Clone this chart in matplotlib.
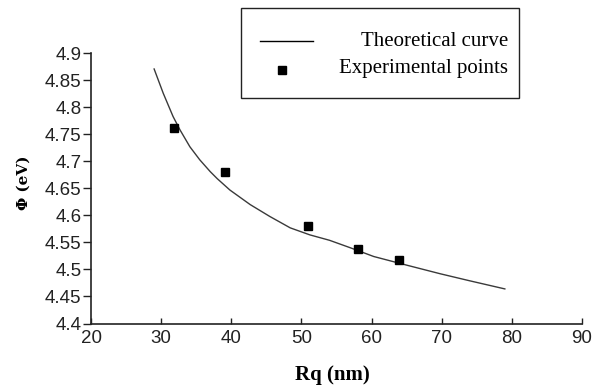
import matplotlib
matplotlib.use("Agg")
import matplotlib.pyplot as plt
from matplotlib.lines import Line2D
from matplotlib.patches import Rectangle

# Theoretical curve
curve_x = [29.0, 30.3, 31.7, 32.7, 34.1, 35.5, 37.0, 38.0, 39.8, 42.7, 45.5,
           48.4, 51.2, 54, 57, 60.3, 65, 69.8, 74, 79]
curve_y = [4.871, 4.826, 4.783, 4.758, 4.727, 4.703, 4.681, 4.668, 4.647, 4.620,
           4.598, 4.577, 4.564, 4.554, 4.540, 4.524, 4.508, 4.492, 4.479, 4.464]

# Experimental points
exp_x = [31.9, 39.1, 51.0, 58.0, 63.9]
exp_y = [4.761, 4.680, 4.580, 4.537, 4.517]

x_ticks = [20, 30, 40, 50, 60, 70, 80, 90]
y_ticks = [4.4, 4.45, 4.5, 4.55, 4.6, 4.65, 4.7, 4.75, 4.8, 4.85, 4.9]
y_ticklabels = ["4.4", "4.45", "4.5", "4.55", "4.6", "4.65", "4.7", "4.75", "4.8", "4.85", "4.9"]

W, H = 595, 388
def fx(px):
    return px / W
def fy(py):
    return 1 - py / H

fig = plt.figure(figsize=(5.95, 3.88), dpi=100)
ax = fig.add_axes([91/595, 1-323.5/388, (582-91)/595, (323.5-53.3)/388])

ax.plot(curve_x, curve_y, color="#3a3a3a", lw=1.0)
ax.plot(exp_x, exp_y, ls="none", marker="s", ms=5.5, color="black")

ax.set_xlim(20, 90)
ax.set_ylim(4.4, 4.9)
ax.set_xticks(x_ticks)
ax.set_yticks(y_ticks)
ax.set_yticklabels(y_ticklabels)

for s in ["top", "right"]:
    ax.spines[s].set_visible(False)
for s in ["left", "bottom"]:
    ax.spines[s].set_linewidth(1.2)
    ax.spines[s].set_color("#222222")

ax.tick_params(axis="x", direction="in", length=4, width=1, labelsize=13.5, pad=5,
               colors="#222222")
ax.tick_params(axis="y", direction="out", length=6, width=1, labelsize=13.5, pad=1,
               colors="#222222")
for lab in ax.get_xticklabels() + ax.get_yticklabels():
    lab.set_fontfamily("Liberation Sans")

fig.text(fx(332), fy(375), "Rq (nm)", ha="center", va="center",
         fontfamily="Liberation Serif", fontweight="bold", fontsize=15)
fig.text(fx(24), fy(183), "Φ (eV)", ha="center", va="center", rotation=90,
         fontfamily="DejaVu Serif", fontweight="bold", fontsize=11)

# Legend box drawn in figure pixel coordinates
fig.patches.append(Rectangle((fx(241), fy(98)), fx(519) - fx(241), fy(8) - fy(98),
                             transform=fig.transFigure, fill=False,
                             edgecolor="#222222", lw=1.0))
fig.lines.append(Line2D([fx(260), fx(313)], [fy(41), fy(41)],
                        transform=fig.transFigure, color="black", lw=1.0))
fig.lines.append(Line2D([fx(282)], [fy(70)], transform=fig.transFigure,
                        marker="s", ms=5.5, color="black", ls="none"))
fig.text(fx(508), fy(41), "Theoretical curve", ha="right", va="center",
         fontfamily="Liberation Serif", fontsize=15)
fig.text(fx(508), fy(69), "Experimental points", ha="right", va="center",
         fontfamily="Liberation Serif", fontsize=15)

fig.savefig("out.png", dpi=100)
